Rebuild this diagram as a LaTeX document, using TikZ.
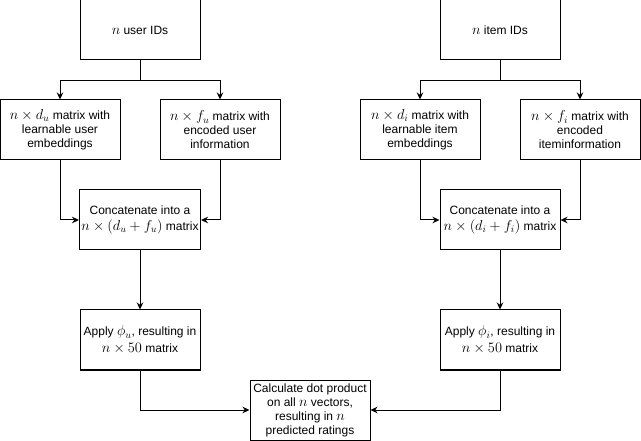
\documentclass[tikz,border=0pt]{standalone}
\usepackage{fontspec}
\setmainfont{Liberation Sans}
\DeclareMathSizes{12}{14.4}{10}{7}
\usetikzlibrary{arrows.meta}
\tikzset{
  box/.style={draw, line width=1pt, minimum width=120pt, minimum height=60pt, inner sep=2pt, align=center, font=\fontsize{12}{14}\selectfont},
  arr/.style={draw, line width=1pt, -{Stealth[length=7pt,width=6.5pt]}}
}
\begin{document}
\begin{tikzpicture}[x=1pt,y=-1pt]
\useasboundingbox (0,0) rectangle (641,441);
\node[box] (uid) at (140,30) {$n$ user IDs};
\node[box] (ue) at (60,130) {$n\times d_u$ matrix with\\learnable user\\embeddings};
\node[box] (uf) at (220,130) {$n\times f_u$ matrix with\\encoded user\\information};
\node[box] (uc) at (140,220) {Concatenate into a\\[2pt]$n\times(d_u+f_u)$ matrix};
\node[box] (ua) at (140,340) {Apply $\phi_u$, resulting in\\[3pt]$n\times 50$ matrix};
\node[box] (iid) at (500,30) {$n$ item IDs};
\node[box] (ie) at (420,130) {$n\times d_i$ matrix with\\learnable item\\embeddings};
\node[box] (if) at (580,130) {$n\times f_i$ matrix with\\encoded\\iteminformation};
\node[box] (ic) at (500,220) {Concatenate into a\\[2pt]$n\times(d_i+f_i)$ matrix};
\node[box] (ia) at (500,340) {Apply $\phi_i$, resulting in\\[3pt]$n\times 50$ matrix};
\node[box] (calc) at (310,410) {Calculate dot product\\on all $n$ vectors,\\resulting in $n$\\predicted ratings};
\draw[arr] (uid.south) -- ++(0,20) -| (ue.north);
\draw[arr] (uid.south) -- ++(0,20) -| (uf.north);
\draw[arr] (ue.south) |- (uc.west);
\draw[arr] (uf.south) |- (uc.east);
\draw[arr] (uc.south) -- (ua.north);
\draw[arr] (ua.south) |- (calc.west);
\draw[arr] (iid.south) -- ++(0,20) -| (ie.north);
\draw[arr] (iid.south) -- ++(0,20) -| (if.north);
\draw[arr] (ie.south) |- (ic.west);
\draw[arr] (if.south) |- (ic.east);
\draw[arr] (ic.south) -- (ia.north);
\draw[arr] (ia.south) |- (calc.east);
\end{tikzpicture}
\end{document}
